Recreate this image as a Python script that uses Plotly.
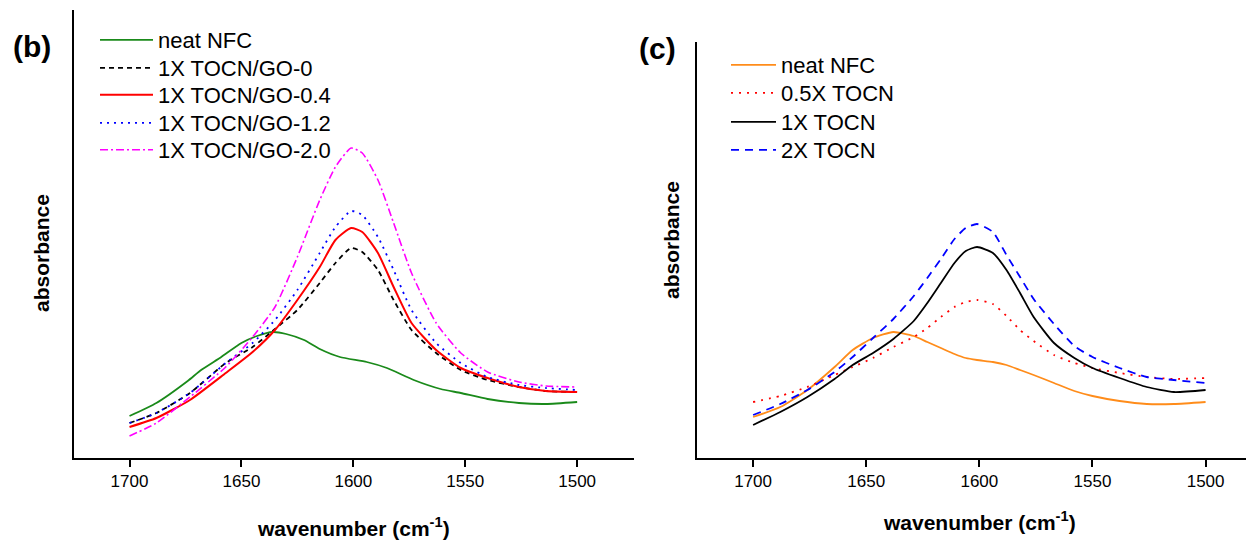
import plotly.graph_objects as go

# ---------------- data: panel (b) ----------------
wn_b_nfc = [1700, 1688, 1674, 1668, 1659, 1650, 1643, 1636, 1630, 1622, 1615,
            1606, 1594, 1585, 1573, 1561, 1552, 1540, 1526, 1514, 1500]
neat_nfc_b = [0.042, 0.055, 0.077, 0.088, 0.101, 0.115, 0.122, 0.126, 0.124, 0.118, 0.109,
              0.101, 0.096, 0.090, 0.078, 0.069, 0.065, 0.059, 0.055, 0.054, 0.056]

wn_b = [1700, 1688, 1673, 1657, 1645, 1635, 1625, 1615, 1608, 1601,
        1596, 1589, 1582, 1574, 1563, 1552, 1540, 1526, 1514, 1500]
go_0 = [0.035, 0.045, 0.065, 0.095, 0.111, 0.129, 0.148, 0.175, 0.195, 0.210,
        0.206, 0.188, 0.158, 0.128, 0.105, 0.088, 0.078, 0.071, 0.067, 0.066]
go_04 = [0.031, 0.040, 0.058, 0.085, 0.106, 0.128, 0.158, 0.191, 0.218, 0.230,
         0.226, 0.205, 0.171, 0.135, 0.108, 0.090, 0.080, 0.071, 0.067, 0.066]
go_12 = [0.035, 0.045, 0.065, 0.095, 0.115, 0.138, 0.168, 0.205, 0.231, 0.247,
         0.243, 0.221, 0.188, 0.148, 0.115, 0.095, 0.081, 0.073, 0.070, 0.068]
go_20 = [0.022, 0.035, 0.061, 0.091, 0.121, 0.151, 0.201, 0.258, 0.291, 0.310,
         0.305, 0.278, 0.235, 0.185, 0.135, 0.105, 0.086, 0.076, 0.072, 0.071]

# ---------------- data: panel (c) ----------------
wn_c = [1700, 1688, 1676, 1664, 1656, 1647, 1638, 1629, 1623, 1617, 1611, 1606,
        1601, 1594, 1588, 1582, 1576, 1567, 1558, 1550, 1538, 1526, 1514, 1500]
neat_nfc_c = [0.041, 0.051, 0.068, 0.091, 0.108, 0.120, 0.126, 0.122, 0.116, 0.110, 0.104, 0.100,
              0.098, 0.096, 0.093, 0.088, 0.083, 0.075, 0.067, 0.062, 0.057, 0.054, 0.054, 0.056]
tocn_05 = [0.056, 0.062, 0.071, 0.083, 0.091, 0.100, 0.111, 0.121, 0.130, 0.141, 0.151, 0.156,
           0.158, 0.154, 0.142, 0.128, 0.117, 0.103, 0.095, 0.090, 0.085, 0.081, 0.079, 0.080]
tocn_1 = [0.033, 0.046, 0.061, 0.079, 0.093, 0.105, 0.119, 0.137, 0.155, 0.175, 0.195, 0.207,
          0.211, 0.205, 0.188, 0.165, 0.141, 0.115, 0.100, 0.090, 0.080, 0.071, 0.066, 0.068]
tocn_2 = [0.043, 0.054, 0.068, 0.086, 0.101, 0.120, 0.139, 0.162, 0.180, 0.199, 0.219, 0.230,
          0.234, 0.226, 0.203, 0.181, 0.159, 0.134, 0.112, 0.101, 0.090, 0.081, 0.078, 0.075]

tick_vals = [1700, 1650, 1600, 1550, 1500]
tick_text = ["1700", "1650", "1600", "1550", "1500"]

FONT = "Arial, Liberation Sans, sans-serif"
OFF = 8                      # page body margin
W, H = 1254 - OFF, 541 - OFF


def px_x(p):
    return (p - OFF) / W


def px_y(p):
    return (H - (p - OFF)) / H


fig = go.Figure()

series = [
    # x, y, name, color, dash, width, panel, legend-row (screen y)
    (wn_b_nfc, neat_nfc_b, "neat NFC", "#1a8a1a", "solid", 1.8, "b", 40),
    (wn_b, go_0, "1X TOCN/GO-0", "#000000", "5px,4px", 1.8, "b", 68),
    (wn_b, go_04, "1X TOCN/GO-0.4", "#ff0000", "solid", 2.0, "b", 95),
    (wn_b, go_12, "1X TOCN/GO-1.2", "#0000ff", "2px,5px", 1.8, "b", 123),
    (wn_b, go_20, "1X TOCN/GO-2.0", "#ff00ff", "8px,3px,2px,3px", 1.6, "b", 150),
    (wn_c, neat_nfc_c, "neat NFC", "#ff8c1a", "solid", 1.8, "c", 65),
    (wn_c, tocn_05, "0.5X TOCN", "#ff0000", "2px,6px", 1.8, "c", 93),
    (wn_c, tocn_1, "1X TOCN", "#000000", "solid", 1.8, "c", 122),
    (wn_c, tocn_2, "2X TOCN", "#0000ff", "8px,6px", 1.8, "c", 150),
]

legend_layout = {}
for i, (x, y, name, color, dash, width, panel, row_y) in enumerate(series):
    lname = "legend" if i == 0 else f"legend{i + 1}"
    xa, ya = ("x", "y") if panel == "b" else ("x2", "y2")
    fig.add_trace(go.Scatter(
        x=x, y=y, name=name, mode="lines",
        line=dict(color=color, dash=dash, width=width, shape="spline", smoothing=0.55),
        xaxis=xa, yaxis=ya, legend=lname))
    legend_layout[lname] = dict(
        x=px_x(95 if panel == "b" else 726), y=px_y(row_y - 21),
        xanchor="left", yanchor="top", bgcolor="rgba(0,0,0,0)", borderwidth=0,
        itemwidth=53 if panel == "b" else 45,
        font=dict(family=FONT, size=22, color="black"))

xaxis_common = dict(
    tickvals=tick_vals, ticktext=tick_text, ticks="outside", ticklen=7, tickwidth=2,
    tickcolor="black", showline=True, linecolor="black", linewidth=2,
    showgrid=False, zeroline=False, tickfont=dict(family=FONT, size=17, color="black"),
)
yaxis_common = dict(
    showline=True, linecolor="black", linewidth=2, showgrid=False, zeroline=False,
    showticklabels=False, ticks="",
)

fig.update_layout(
    width=W, height=H,
    margin=dict(l=0, r=0, t=0, b=0),
    paper_bgcolor="white", plot_bgcolor="white",
    font=dict(family=FONT, color="black"),
    xaxis=dict(domain=[px_x(74), px_x(634)], range=[1724.8, 1474.6], anchor="y", **xaxis_common),
    yaxis=dict(domain=[px_y(458), px_y(10)], range=[0, 0.448], anchor="x", **yaxis_common),
    xaxis2=dict(domain=[px_x(697), 1.0], range=[1724.8, 1478.6], anchor="y2", **xaxis_common),
    yaxis2=dict(domain=[px_y(458), px_y(42)], range=[0, 0.416], anchor="x2", **yaxis_common),
    showlegend=True,
    **legend_layout,
)

annotations = [
    dict(text="<b>(b)</b>", x=px_x(32), y=px_y(47), font=dict(size=30)),
    dict(text="<b>(c)</b>", x=px_x(657), y=px_y(49), font=dict(size=30)),
    dict(text="<b>absorbance</b>", x=px_x(42), y=px_y(253), textangle=-90, font=dict(size=21)),
    dict(text="<b>absorbance</b>", x=px_x(672), y=px_y(240), textangle=-90, font=dict(size=21)),
    dict(text="<b>wavenumber (cm<sup>-1</sup>)</b>", x=px_x(353), y=px_y(527), font=dict(size=21)),
    dict(text="<b>wavenumber (cm<sup>-1</sup>)</b>", x=px_x(979), y=px_y(521), font=dict(size=21)),
]
for a in annotations:
    a.update(xref="paper", yref="paper", showarrow=False, xanchor="center", yanchor="middle")
    a["font"].update(family=FONT, color="black")
fig.update_layout(annotations=annotations)

fig.write_html("out.html")
